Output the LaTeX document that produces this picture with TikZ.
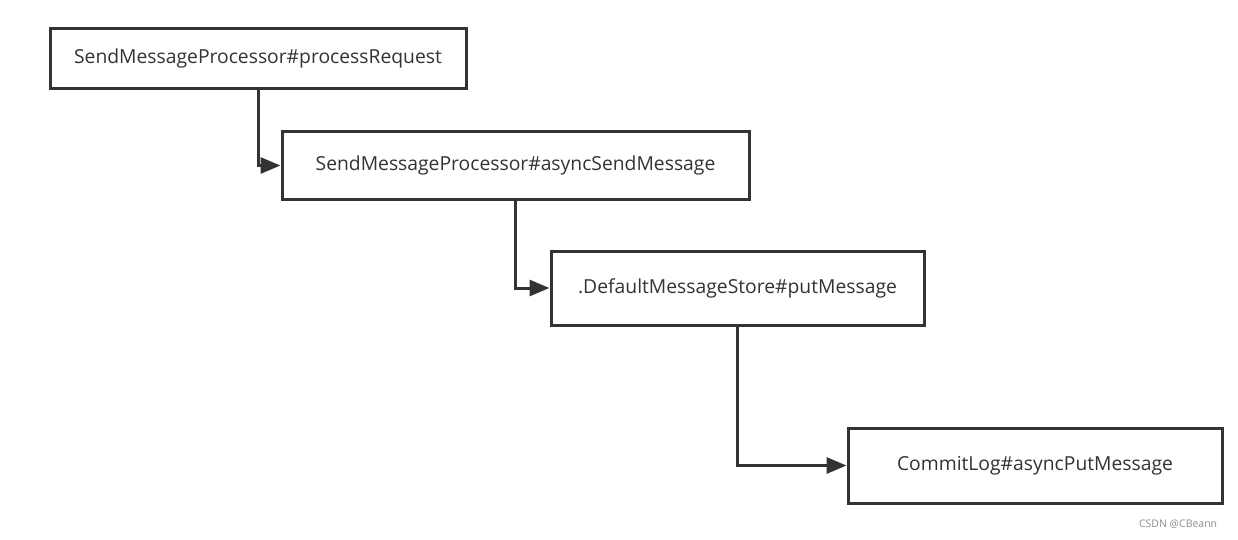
\documentclass[tikz,border=0pt]{standalone}
\usepackage{fontspec}
\setmainfont{Open Sans}
\usetikzlibrary{arrows.meta,positioning}

\begin{document}
\begin{tikzpicture}[
        x = 1pt, y = -1pt,
        > = {Triangle[length=20pt,width=16pt]}, % arrow head style
        line width = 3pt, % line style
        draw = black!80
        ]

        \tikzset{box/.style={
        draw = black!80,
        line width = 3pt,
        fill = white,
        inner sep = 0pt,
        font = \fontsize{19.3pt}{22pt}\selectfont,
        text = black!80
        }}

        \useasboundingbox (0,0) rectangle (1238,539);

        \node[box, minimum width=416pt, minimum height=60pt] (proc) at (258,58) {SendMessageProcessor\#processRequest};
        \node[box, minimum width=467pt, minimum height=68pt] (async) at (515.5,165.5) {SendMessageProcessor\#asyncSendMessage};
        \node[box, minimum width=373pt, minimum height=74pt] (store) at (737.5,288) {.DefaultMessageStore\#putMessage};
        \node[box, minimum width=374pt, minimum height=75pt] (commit) at (1035,465.5) {CommitLog\#asyncPutMessage};

        \node[text=black!45, font=\fontsize{10.5pt}{12pt}\selectfont, anchor=east] (mark) at (1222,524) {CSDN @CBeann};

        \draw[->, draw=black!80] (proc.south) |- (async.west);
        \draw[->, draw=black!80] (async.south) |- (store.west);
        \draw[->, draw=black!80] (store.south) |- (commit.west);

\end{tikzpicture}
\end{document}
